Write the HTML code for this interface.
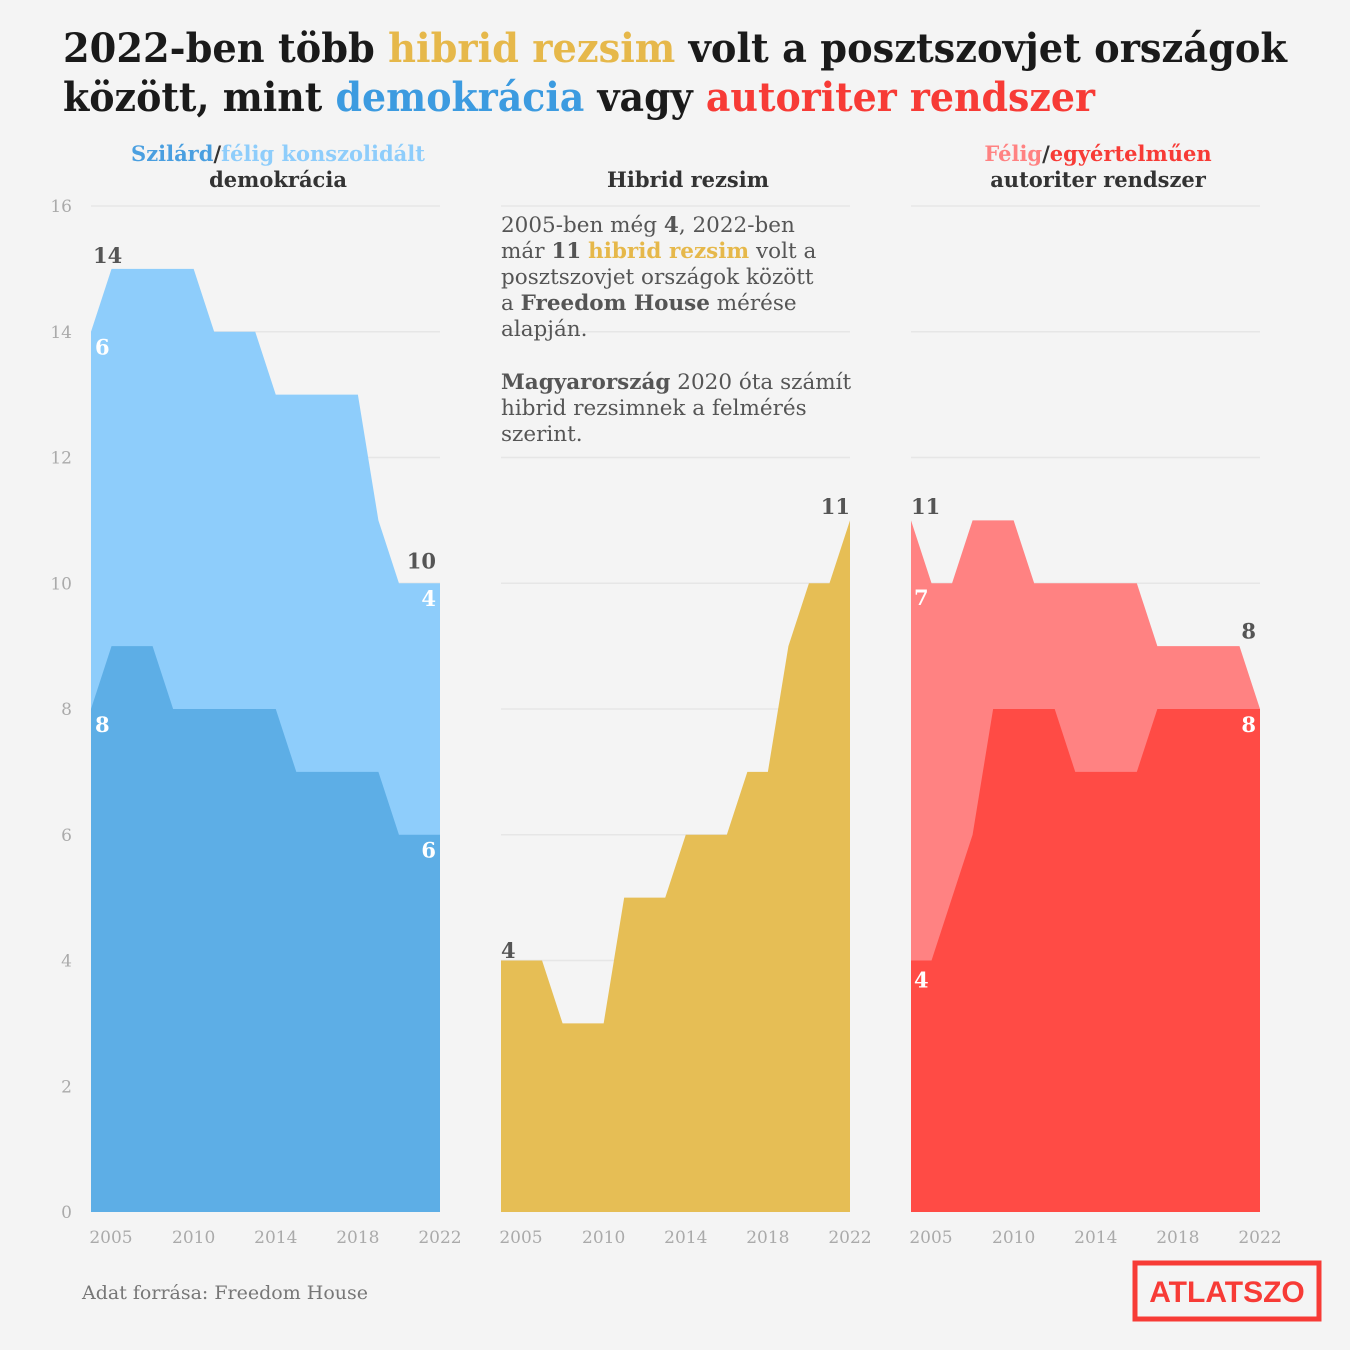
<!DOCTYPE html>
<html><head><meta charset="utf-8"><style>
html,body{margin:0;padding:0;background:#f4f4f4;}
svg{display:block;font-family:"DejaVu Serif","Liberation Serif",serif;}
</style></head><body>
<svg id="chart" width="1350" height="1350" viewBox="0 0 1350 1350" xmlns="http://www.w3.org/2000/svg">
<rect width="1350" height="1350" fill="#f4f4f4"/>
<g font-weight="bold" font-size="40" fill="#1a1a1a">
<text x="63" y="62" textLength="1224" lengthAdjust="spacingAndGlyphs">2022-ben több <tspan fill="#e6b84a">hibrid rezsim</tspan> volt a posztszovjet országok</text>
<text x="63" y="111" textLength="1032" lengthAdjust="spacingAndGlyphs">között, mint <tspan fill="#3c9be0">demokrácia</tspan> vagy <tspan fill="#f73b36">autoriter rendszer</tspan></text>
</g>
<g id="grid"></g>
<g id="marks"></g>
<g id="axes" font-size="17" fill="#aaaaaa"></g>
<g font-size="21" font-weight="bold" text-anchor="middle" fill="#333">
<text x="278" y="161"><tspan fill="#4a9fe0">Szilárd</tspan><tspan fill="#333">/</tspan><tspan fill="#8ecdfb">félig konszolidált</tspan></text>
<text x="278" y="187">demokrácia</text>
<text x="688" y="187">Hibrid rezsim</text>
<text x="1098" y="161"><tspan fill="#ff8282">Félig</tspan><tspan fill="#333">/</tspan><tspan fill="#f73b36">egyértelműen</tspan></text>
<text x="1098" y="187">autoriter rendszer</text>
</g>
<g font-size="21.5" fill="#555">
<text x="501" y="232">2005-ben még <tspan font-weight="bold">4</tspan>, 2022-ben</text>
<text x="501" y="258">már <tspan font-weight="bold">11</tspan> <tspan font-weight="bold" fill="#e6b84a">hibrid rezsim</tspan> volt a</text>
<text x="501" y="284">posztszovjet országok között</text>
<text x="501" y="310">a <tspan font-weight="bold">Freedom House</tspan> mérése</text>
<text x="501" y="336">alapján.</text>
<text x="501" y="389"><tspan font-weight="bold">Magyarország</tspan> 2020 óta számít</text>
<text x="501" y="415">hibrid rezsimnek a felmérés</text>
<text x="501" y="441">szerint.</text>
</g>
<text x="82" y="1299" font-size="19" fill="#777">Adat forrása: Freedom House</text>
<g>
<rect x="1135" y="1263" width="184" height="56" fill="none" stroke="#f73b36" stroke-width="5"/>
<text x="1227" y="1302" text-anchor="middle" font-family="Liberation Sans, sans-serif" font-weight="bold" font-size="30" fill="#f73b36">ATLATSZO</text>
</g>
</svg>
<script>
const years = [2005,2006,2007,2008,2009,2010,2011,2012,2013,2014,2015,2016,2017,2018,2019,2020,2021,2022];
const demTotal = [14,15,15,15,15,15,14,14,14,13,13,13,13,13,11,10,10,10];
const demSolid = [8,9,9,9,8,8,8,8,8,8,7,7,7,7,7,6,6,6];
const hybrid = [4,4,4,3,3,3,5,5,5,6,6,6,7,7,9,10,10,11];
const autTotal = [11,10,10,11,11,11,10,10,10,10,10,10,9,9,9,9,9,8];
const autSolid = [4,4,5,6,8,8,8,8,7,7,7,7,8,8,8,8,8,8];
const yTicks = [0,2,4,6,8,10,12,14,16];
const xTicks = [2005,2010,2014,2018,2022];

const NS='http://www.w3.org/2000/svg';
const panels=[91,501,911], PW=349;
const y0=1212, yPer=62.875;
const yScale=v=>y0-v*yPer;
const xScale=(p,yr)=>panels[p]+(yr-2005)*PW/17;
function mk(tag,attrs,parent){const e=document.createElementNS(NS,tag);for(const k in attrs)e.setAttribute(k,attrs[k]);parent.appendChild(e);return e;}
const grid=document.getElementById('grid'),marks=document.getElementById('marks'),axes=document.getElementById('axes');
for(const t of yTicks){
  for(let p=0;p<3;p++){
    if(t===0)continue;
    const l=mk('line',{x1:panels[p],x2:panels[p]+PW,y1:yScale(t),y2:yScale(t),stroke:'#e6e6e6','stroke-width':1.5},grid);
    
    
  }
  const tx=mk('text',{x:72,y:yScale(t)+6,'text-anchor':'end'},axes);tx.textContent=t;
  
  
}
for(let p=0;p<3;p++)for(const yr of xTicks){
  let x=xScale(p,yr);
  if(yr===2005)x+=20;
  const tx=mk('text',{x:x,y:1243,'text-anchor':'middle'},axes);tx.textContent=yr;
  
  
}
function area(p,vals,color,name){
  let d='M'+xScale(p,years[0])+','+y0;
  years.forEach((yr,i)=>{d+=' L'+xScale(p,yr)+','+yScale(vals[i]);});
  d+=' L'+xScale(p,years[years.length-1])+','+y0+' Z';
  const e=mk('path',{d:d,fill:color},marks);
  
  
}
area(0,demTotal,'#8ecdfb','area-semi-consolidated-democracy');
area(0,demSolid,'#5daee6','area-consolidated-democracy');
area(1,hybrid,'#e6be55','area-hybrid-regime');
area(2,autTotal,'#ff8282','area-semi-authoritarian');
area(2,autSolid,'#ff4b45','area-authoritarian');
function lbl(x,y,txt,col,anchor){
  const t=mk('text',{x:x,y:y,fill:col,'font-size':21,'font-weight':'bold','text-anchor':anchor||'start'},marks);
  t.textContent=txt;
  
  
}
const L=years.length-1;
lbl(93,yScale(demTotal[0]+1)-6,demTotal[0],'#555');
lbl(95,yScale(demTotal[0]-0.3)+4,demTotal[0]-demSolid[0],'#fff');
lbl(95,yScale(demSolid[0]-0.3)+4,demSolid[0],'#fff');
lbl(436,yScale(demTotal[L]+0.2)-2,demTotal[L],'#555','end');
lbl(436,yScale(demTotal[L]-0.3)+4,demTotal[L]-demSolid[L],'#fff','end');
lbl(436,yScale(demSolid[L]-0.3)+4,demSolid[L],'#fff','end');
lbl(501,yScale(hybrid[0]+0.1)+4,hybrid[0],'#555');
lbl(850,yScale(hybrid[L]+0.1),hybrid[L],'#555','end');
lbl(911,yScale(autTotal[0]+0.1),autTotal[0],'#555');
lbl(914,yScale(autTotal[0]-0.9)+28,autTotal[0]-autSolid[0],'#fff');
lbl(914,yScale(autSolid[0]-0.3)+8,autSolid[0],'#fff');
lbl(1256,yScale(autTotal[L]+0.5)-39,autTotal[L],'#555','end');
lbl(1256,yScale(autSolid[L]-0.3)+4,autSolid[L],'#fff','end');
</script>
</body></html>
